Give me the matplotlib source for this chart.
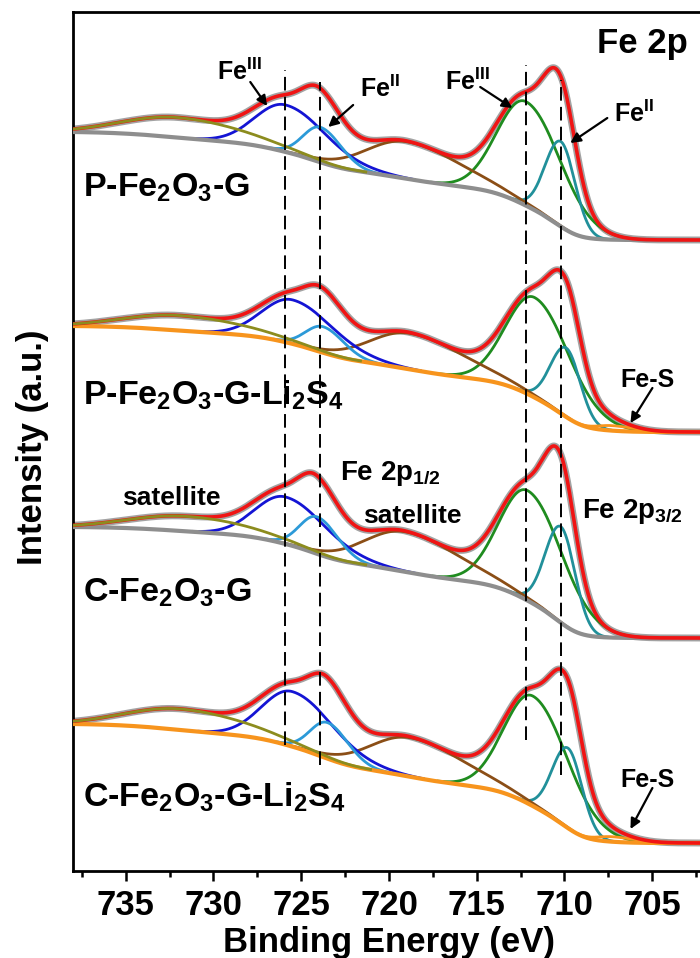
import numpy as np
import matplotlib
matplotlib.use('Agg')
import matplotlib.pyplot as plt

plt.rcParams['font.family'] = ['Liberation Sans', 'DejaVu Sans']
plt.rcParams['font.weight'] = 'bold'
plt.rcParams['mathtext.fontset'] = 'custom'
plt.rcParams['mathtext.rm'] = 'Liberation Sans:bold'
plt.rcParams['mathtext.it'] = 'Liberation Sans:bold'
plt.rcParams['mathtext.bf'] = 'Liberation Sans:bold'

# ---------------- data ----------------
samples = ['P-Fe$_2$O$_3$-G', 'P-Fe$_2$O$_3$-G-Li$_2$S$_4$',
           'C-Fe$_2$O$_3$-G', 'C-Fe$_2$O$_3$-G-Li$_2$S$_4$']
has_li2s4 = [False, True, False, True]

components = ['Fe(III) 2p3/2', 'Fe(II) 2p3/2', 'satellite 2p3/2',
              'Fe(III) 2p1/2', 'Fe(II) 2p1/2', 'satellite 2p1/2', 'Fe-S']

# peak centres (eV), one row per sample
peak_center = [
    [712.2, 710.2, 719.0, 725.9, 723.9, 732.0, 707.3],
    [711.7, 709.9, 718.8, 725.5, 723.75, 731.9, 707.3],
    [712.1, 710.2, 719.1, 725.9, 724.1, 731.6, 707.3],
    [711.8, 709.8, 718.8, 725.5, 723.5, 731.8, 707.3],
]
# peak heights above background (a.u.)
peak_height = [
    [104, 85, 37, 47, 35, 20, 0],
    [100, 69, 36, 44, 26, 15, 5],
    [110, 96, 40, 47, 37, 15, 0],
    [110, 80, 39, 55, 36, 21, 5],
]
# half widths (eV) on the high- and low-binding-energy side of each peak
hwhm_high = [1.9, 1.05, 2.7, 2.0, 1.15, 3.6, 1.0]
hwhm_low = [2.4, 0.95, 3.6, 2.8, 1.4, 4.5, 1.6]

# background level at low- and high-binding-energy ends (a.u.)
bg_low = [631, 439, 233, 28]
bg_high = [739, 545, 344, 147]

ref_energy = [725.9, 723.9, 712.2, 710.2]   # dashed reference lines

x_ticks = [735, 730, 725, 720, 715, 710, 705]

# ---------------- colours ----------------
c_raw = '#a3a3a3'
c_env = '#f01414'
comp_colors = ['#1f8c1f', '#21909a', '#8b4e16', '#1414d4', '#2c9ad8', '#8c8c1e', '#f7941d']
c_bg_grey = '#8e8e8e'
c_bg_orange = '#f7941d'

E = np.linspace(700.0, 738.0, 2400)


def asym_peak(e, c, h, w_hi, w_lo):
    w = np.where(e >= c, w_hi, w_lo)
    return h * np.exp(-np.log(2) * ((e - c) / w) ** 2)


def shirley(e, total, lo, hi):
    de = np.gradient(e)
    cum = np.cumsum(total * de)
    return lo + (hi - lo) * cum / cum[-1]


fig = plt.figure(figsize=(7.0, 9.58), dpi=100)
ax = fig.add_axes([73 / 700, 87 / 958, 667 / 700, 859 / 958])

for i in range(len(samples)):
    peaks = [asym_peak(E, peak_center[i][k], peak_height[i][k],
                       hwhm_high[k], hwhm_low[k]) for k in range(len(components))]
    total = np.sum(peaks, axis=0)
    bg = shirley(E, total, bg_low[i], bg_high[i])
    env = bg + total
    ax.plot(E, env, color=c_raw, lw=5.0, zorder=1, solid_capstyle='butt')
    bgc = c_bg_orange if has_li2s4[i] else c_bg_grey
    ax.plot(E, bg, color=bgc, lw=3.0, zorder=3.5)
    for k in range(len(components)):
        if peak_height[i][k] <= 0:
            continue
        y = np.where(peaks[k] > 0.4, bg + peaks[k], np.nan)
        z = 5 if k == 5 else 3
        ax.plot(E, y, color=comp_colors[k], lw=2.0, zorder=z)
    ax.plot(E, env, color=c_env, lw=2.6, zorder=4)

# dashed reference lines
dash_top = [801, 789, 806, 791]
dash_bot = [126, 106, 131, 96]
for k, e0 in enumerate(ref_energy):
    ax.plot([e0, e0], [dash_bot[k], dash_top[k]], color='k', lw=1.4,
            ls=(0, (7, 3.2)), zorder=6)

ax.set_xlim(738, 700)
ax.set_ylim(0, 859)
ax.set_yticks([])
ax.set_xticks(x_ticks)
ax.set_xticks(np.arange(700, 738.1, 2.5), minor=True)
ax.tick_params(axis='x', which='major', direction='out', length=7, width=1.8,
               pad=6, labelsize=25)
ax.tick_params(axis='x', which='minor', direction='out', length=4.5, width=1.8)
for s in ax.spines.values():
    s.set_linewidth(2.0)
ax.spines['right'].set_visible(False)

# texts
fs_lab = 24.5
ax.text(737.43, 674, samples[0], fontsize=fs_lab, ha='left', va='baseline', zorder=2)
ax.text(737.43, 466, samples[1], fontsize=fs_lab, ha='left', va='baseline', zorder=2)
ax.text(737.43, 269, samples[2], fontsize=fs_lab, ha='left', va='baseline', zorder=2)
ax.text(737.43, 64, samples[3], fontsize=fs_lab, ha='left', va='baseline', zorder=2)

ax.text(708.13, 818, 'Fe 2p', fontsize=25, ha='left', va='baseline')

fs_a = 18
ax.text(729.8, 791, 'Fe$^{\\mathrm{III}}$', fontsize=fs_a, ha='left', va='baseline')
ax.text(721.64, 774, 'Fe$^{\\mathrm{II}}$', fontsize=fs_a, ha='left', va='baseline')
ax.text(716.79, 781, 'Fe$^{\\mathrm{III}}$', fontsize=fs_a, ha='left', va='baseline')
ax.text(707.2, 749, 'Fe$^{\\mathrm{II}}$', fontsize=fs_a, ha='left', va='baseline')
ax.text(706.8, 484, 'Fe-S', fontsize=fs_a, ha='left', va='baseline')
ax.text(706.8, 84, 'Fe-S', fontsize=fs_a, ha='left', va='baseline')

ax.text(732.4, 366, 'satellite', fontsize=19, ha='center', va='baseline')
ax.text(721.47, 348, 'satellite', fontsize=19, ha='left', va='baseline')
ax.text(722.78, 391, 'Fe 2p$_{\\mathrm{1/2}}$', fontsize=20, ha='left', va='baseline')
ax.text(708.98, 353, 'Fe 2p$_{\\mathrm{3/2}}$', fontsize=20, ha='left', va='baseline')

arrows = [((727.9, 789), (726.94, 765)),
          ((722.04, 766), (723.46, 744)),
          ((714.8, 784), (712.97, 763)),
          ((707.56, 753), (709.67, 728)),
          ((704.99, 483), (706.24, 448)),
          ((704.99, 83), (706.24, 42))]
for (x0, y0), (x1, y1) in arrows:
    ax.annotate('', xy=(x1, y1), xytext=(x0, y0),
                arrowprops=dict(arrowstyle='-|>', color='k', lw=1.6,
                                mutation_scale=15, shrinkA=0, shrinkB=0),
                zorder=7)

fig.text(389 / 700, 1 - 952 / 958, 'Binding Energy (eV)', fontsize=25,
         ha='center', va='baseline')
fig.text(33 / 700, 1 - 447 / 958, 'Intensity (a.u.)', fontsize=25,
         rotation=90, ha='center', va='center')

fig.savefig('out.png', dpi=100)
